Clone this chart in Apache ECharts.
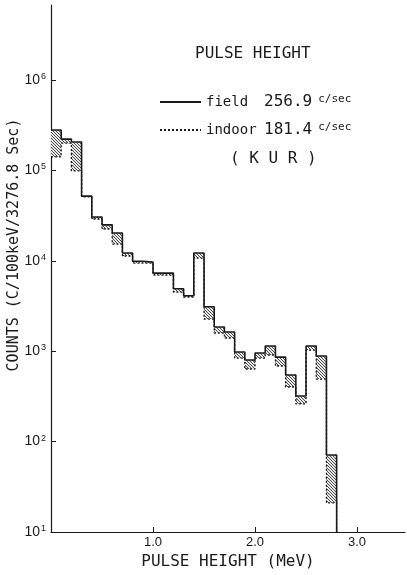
<!DOCTYPE html>
<html>
<head>
<meta charset="utf-8">
<script src="https://cdn.jsdelivr.net/npm/echarts@6/dist/echarts.min.js"></script>
<style>
html,body{margin:0;padding:0;background:#fff;}
#chart{width:407px;height:575px;}
</style>
</head>
<body>
<div id="chart"></div>
<script>
// Bin edges (MeV)
const binEdges = [0.0,0.1,0.2,0.3,0.4,0.5,0.6,0.7,0.8,0.9,1.0,1.1,1.2,1.3,1.4,1.5,1.6,1.7,1.8,1.9,2.0,2.1,2.2,2.3,2.4,2.5,2.6,2.7,2.8];
// Counts (C/100keV/3276.8 Sec)
const fieldCounts  = [2.8e5,2.22e5,2.06e5,5.2e4,3.05e4,2.5e4,2.03e4,1.22e4,9.9e3,9.7e3,7.3e3,7.3e3,4.9e3,4.1e3,1.22e4,3.1e3,1850,1630,980,800,955,1140,860,545,320,1140,885,71];
const indoorCounts = [1.41e5,2.0e5,9.9e4,5.1e4,2.9e4,2.25e4,1.53e4,1.13e4,9450,9450,6950,6950,4500,3980,1.07e4,2270,1590,1400,840,636,840,908,686,402,261,1030,492,21];
const xTicks = [1.0, 2.0, 3.0];
const yDecades = [1, 2, 3, 4, 5, 6];
const seriesNames = ['field', 'indoor'];
const seriesRates = ['256.9', '181.4'];

const MONO = '"DejaVu Sans Mono", monospace';
const SANS = '"Liberation Sans", "DejaVu Sans", sans-serif';
const INK = '#1a1a1a';
const log10 = Math.log10;

function stepData(vals) {
  const d = vals.map((v, i) => [binEdges[i], log10(v)]);
  d.push([binEdges[binEdges.length - 1], log10(vals[vals.length - 1])]);
  d.push([binEdges[binEdges.length - 1], 1]);
  return d;
}
const hatchData = fieldCounts.map((v, i) => [binEdges[i], binEdges[i + 1],
  log10(Math.min(v, indoorCounts[i])), log10(Math.max(v, indoorCounts[i]))]);

// diagonal hatch pattern
const pc = document.createElement('canvas');
pc.width = 3; pc.height = 3;
const g = pc.getContext('2d');
g.fillStyle = '#e6e6e6'; g.fillRect(0, 0, 3, 3);
g.fillStyle = '#505050';
g.fillRect(0, 0, 1, 1); g.fillRect(1, 1, 1, 1); g.fillRect(2, 2, 1, 1);

const chart = echarts.init(document.getElementById('chart'), null, {renderer: 'canvas'});
chart.setOption({
  animation: false,
  backgroundColor: '#fff',
  textStyle: {fontFamily: SANS, color: INK},
  grid: {left: 51, right: 2, top: 5, bottom: 43},
  xAxis: {
    type: 'value', min: 0, max: 3.47,
    splitLine: {show: false},
    axisLine: {lineStyle: {color: INK, width: 1.2}},
    axisTick: {inside: true, length: 5, customValues: xTicks, lineStyle: {color: INK}},
    axisLabel: {customValues: xTicks, formatter: v => v.toFixed(1), fontFamily: SANS, fontSize: 13, color: INK, margin: 4},
    name: 'PULSE HEIGHT (MeV)', nameLocation: 'middle', nameGap: 18,
    nameTextStyle: {fontFamily: MONO, fontSize: 16, color: INK, verticalAlign: 'top'}
  },
  yAxis: {
    type: 'value', min: 1, max: 6.83,
    splitLine: {show: false},
    axisLine: {show: true, lineStyle: {color: INK, width: 1.2}},
    axisTick: {show: true, inside: true, length: 5, customValues: yDecades, lineStyle: {color: INK}},
    axisLabel: {
      customValues: yDecades, margin: 5,
      formatter: v => '{b|10}{s|' + Math.round(v) + '}',
      rich: {
        b: {fontFamily: SANS, fontSize: 14, color: INK},
        s: {fontFamily: SANS, fontSize: 9, color: INK, verticalAlign: 'top', padding: [0, 0, 7, 1]}
      }
    }
  },
  legend: {
    data: seriesNames,
    orient: 'vertical', left: 154, top: 89,
    itemWidth: 41, itemHeight: 14, itemGap: 12,
    itemStyle: {opacity: 0, borderWidth: 0},
    formatter: name => {
      const i = seriesNames.indexOf(name);
      return '{n|' + name + '}{r|' + seriesRates[i] + '}{u|c/sec}';
    },
    textStyle: {
      fontFamily: MONO, color: INK,
      rich: {
        n: {fontFamily: MONO, fontSize: 14, color: INK, width: 58},
        r: {fontFamily: MONO, fontSize: 16, color: INK},
        u: {fontFamily: MONO, fontSize: 11, color: INK, verticalAlign: 'top', padding: [0, 0, 5, 6]}
      }
    }
  },
  graphic: [
    {type: 'text', left: 195, top: 46, style: {text: 'PULSE HEIGHT', font: '16px "DejaVu Sans Mono"', fill: INK}},
    {type: 'text', left: 230, top: 151, style: {text: '( K U R )', font: '16px "DejaVu Sans Mono"', fill: INK}},
    {type: 'text', x: 14, y: 245, rotation: Math.PI / 2,
      style: {text: 'COUNTS (C/100keV/3276.8 Sec)', font: '15px "DejaVu Sans Mono"', fill: INK, align: 'center', verticalAlign: 'middle'}}
  ],
  series: [
    {
      type: 'custom', silent: true, clip: true,
      data: hatchData,
      encode: {x: [0, 1], y: [2, 3]},
      renderItem: (params, api) => {
        const p0 = api.coord([api.value(0), api.value(3)]);
        const p1 = api.coord([api.value(1), api.value(2)]);
        return {type: 'rect', shape: {x: p0[0], y: p0[1], width: p1[0] - p0[0], height: p1[1] - p0[1]},
          style: {fill: {image: pc, repeat: 'repeat'}, stroke: null}};
      },
      z: 1
    },
    {
      name: 'indoor', type: 'line', step: 'end', data: stepData(indoorCounts),
      symbol: 'none', lineStyle: {color: INK, width: 1.3, type: [2, 2]}, itemStyle: {color: INK}, z: 2
    },
    {
      name: 'field', type: 'line', step: 'end', data: stepData(fieldCounts),
      symbol: 'none', lineStyle: {color: INK, width: 1.6, type: 'solid'}, itemStyle: {color: INK}, z: 3
    }
  ]
});
</script>
</body>
</html>
